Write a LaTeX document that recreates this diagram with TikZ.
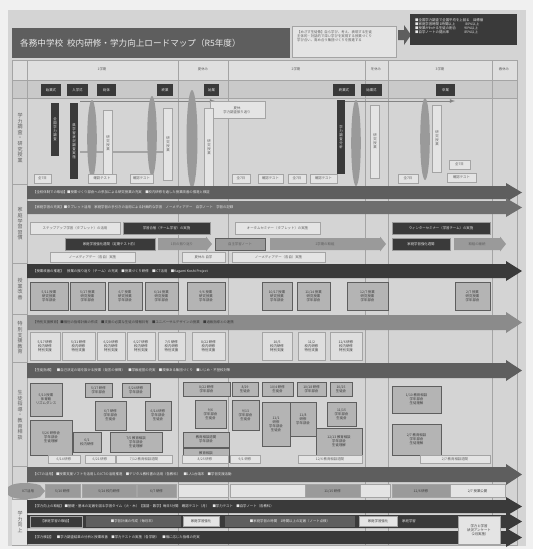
\documentclass[tikz,border=0pt]{standalone}
\usepackage{fontspec}
\setmainfont{Noto Sans CJK JP}
\definecolor{pagebg}{HTML}{F0F0F0}
\definecolor{poster}{HTML}{D4D4D4}
\definecolor{dk}{HTML}{5E5E5E}
\definecolor{dkk}{HTML}{3A3A3A}
\definecolor{md}{HTML}{9A9A9A}
\definecolor{lt}{HTML}{E4E4E4}
\definecolor{gridc}{HTML}{A4A4A4}
\definecolor{txtl}{HTML}{E8E8E8}
\tikzset{
  tiny/.style={font=\fontsize{3.4}{4}\selectfont, inner sep=0pt, align=center},
  tinyw/.style={tiny, text=txtl},
  dbox/.style={fill=dkk, draw=md, line width=0.4pt},
  lbox/.style={fill=lt, draw=gridc, line width=0.4pt},
  mbox/.style={fill=md, draw=dk, line width=0.4pt},
  gbox/.style={fill=poster!85!black, draw=dk, line width=0.4pt},
  oval/.style={fill=md},
  vlab/.style={font=\fontsize{5}{5.6}\selectfont, inner sep=0pt, align=center, text=dk},
}
\newcommand\bigarr[3]{% y1 y2 colour
  \fill[#3] (27,#1) -- (506,#1) -- (506,#1-3) -- (522,{(#1+#2)/2}) -- (506,#2+3) -- (506,#2) -- (27,#2) -- cycle;}
\newcommand\smallarr[5]{% x1 x2 y1 y2 colour
  \fill[#5] (#1,#3) -- (#2-6,#3) -- (#2-6,#3-1.5) -- (#2,{(#3+#4)/2}) -- (#2-6,#4+1.5) -- (#2-6,#4) -- (#1,#4) -- cycle;}
\begin{document}
\begin{tikzpicture}[x=1pt,y=-1pt]
\useasboundingbox (0,0) rectangle (533,549);
\fill[pagebg] (0,0) rectangle (533,549);
\fill[poster] (8,10) rectangle (526,546);
% header rows
\fill[lt!70!poster] (12,60) rectangle (517,80);
\fill[poster!95!black] (12,80) rectangle (517,98);
\draw[gridc, line width=0.5pt] (12,60) rectangle (517,545);
\draw[gridc, line width=0.5pt] (12,80) -- (517,80) (12,98) -- (517,98);
\foreach \x in {27,178,228,365,388,492} \draw[gridc, line width=0.5pt] (\x,60) -- (\x,545);
\foreach \y in {184,263,314,362,466,499} \draw[gridc, line width=0.5pt] (12,\y) -- (27,\y);
% title
\fill[dk] (12,28) rectangle (290,58);
\node[font=\fontsize{8.6}{9}\selectfont, text=txtl, anchor=west, inner sep=0] (title) at (20,43) {各務中学校\ \ 校内研修・学力向上ロードマップ（R5年度）};
\node[lbox, minimum width=104pt, minimum height=31pt, anchor=north west, inner sep=0] (intro) at (292,26) {};
\node[tiny, text=dk, align=left, anchor=north west] (introtxt) at (297,30) {【めざす生徒像】自ら学び、考え、表現する生徒\\主体的・対話的で深い学びを実現する授業づくり\\学び合い、高め合う集団づくりを推進する};
\fill[dk] (398,30) -- (404,30) -- (404,25) -- (411,35) -- (404,45) -- (404,40) -- (398,40) -- cycle;
\node[fill=dkk, minimum width=107pt, minimum height=31pt, anchor=north west, inner sep=0] (goal) at (410,14) {};
\node[tinyw, align=left, anchor=north west] (goaltxt) at (415,18) {■全国学力調査で全国平均を上回る\quad 目標値\\■家庭学習時間 1時間以上\quad\quad\quad 80\%以上\\■授業がわかる生徒の割合\quad\quad\ \ 90\%以上\\■自学ノートの提出率\quad\quad\quad\quad\ \ 85\%以上};
% term headers
\node[tiny, text=dk] (t1) at (102,69) {1学期};
\node[tiny, text=dk] (s1) at (203,69) {夏休み};
\node[tiny, text=dk] (t2) at (296,69) {2学期};
\node[tiny, text=dk] (s2) at (376,69) {冬休み};
\node[tiny, text=dk] (t3) at (440,69) {3学期};
\node[tiny, text=dk] (s3) at (504,69) {春休み};
% events
\foreach \a/\b/\t [count=\i] in {41/61/始業式,67/88/入学式,97/116/総体,157/173/終業,204/219/始業,333/355/終業式,361/382/始業式,436/455/卒業}
  \node[fill=dkk, minimum width={(\b-\a)*1pt}, minimum height=12pt, inner sep=0, tinyw] (ev\i) at ({(\a+\b)/2},90) {\t};
% label column
\node[vlab] (lab1) at (20,138) {学\\力\\調\\査\\・\\研\\究\\授\\業};
\node[vlab] (lab2) at (20,224) {家\\庭\\学\\習\\習\\慣};
\node[vlab] (lab3) at (20,289) {授\\業\\改\\善};
\node[vlab] (lab4) at (20,338) {特\\別\\支\\援\\教\\育};
\node[vlab] (lab5) at (20,415) {生\\徒\\指\\導\\・\\教\\育\\相\\談};
\fill[lt] (12,500) rectangle (27,545);
\node[vlab] (lab6) at (20,522) {学\\力\\向\\上};
% thin timeline lines
\draw[gridc!80!black, line width=0.8pt, -latex] (80,101) -- (215,101);
\draw[gridc!80!black, line width=0.8pt, -latex] (345,101) -- (455,101);
\node[lbox, minimum width=55pt, minimum height=17pt, anchor=north west, inner sep=0] (natl) at (210,101) {};
\node[tiny, text=dk] (natltxt) at (237,110) {夏休\\学力調査振り返り};
\draw[gridc, line width=1.2pt] (80,152) -- (165,152);
% vertical bars and ovals
\node[fill=dkk, minimum width=8pt, minimum height=53pt, inner sep=0, tinyw] (vb1) at (55,129) {全\\国\\学\\力\\調\\査};
\node[fill=dkk, minimum width=8pt, minimum height=76pt, inner sep=0, tinyw] (vb2) at (74,141) {県\\学\\習\\状\\況\\調\\査\\実\\施};
\node[fill=dkk, minimum width=8pt, minimum height=74pt, inner sep=0, tinyw] (vb3) at (341,137) {学\\力\\調\\査\\分\\析};
\foreach \x/\ya/\yb [count=\i] in {92/100/178, 152/96/176, 192/90/188, 356/100/186, 425/98/180}
  \fill[oval] (\x,{(\ya+\yb)/2}) ellipse ({\i==3 ? 5.5 : 4.8} and {(\yb-\ya)/2});
\foreach \x/\ya/\yb/\t [count=\i] in {108/110/176/研\\究\\授\\業, 168/108/180/研\\究\\授\\業, 209/108/186/研\\究\\授\\業, 375/105/178/研\\究\\授\\業, 437/105/172/研\\究\\授\\業}
  \node[lbox, minimum width=9pt, minimum height={(\yb-\ya)*1pt}, inner sep=0, tiny, text=dk] (vl\i) at (\x,{(\ya+\yb)/2}) {\t};
% small test boxes
\foreach \a/\b/\ya/\t [count=\i] in {34/51/174/全7日, 88/116/174/確認テスト, 130/153/174/確認テスト, 232/250/174/全7日, 258/283/174/確認テスト, 288/306/174/全7日, 310/337/174/確認テスト, 398/418/174/全7日, 449/470/160/全7日, 447/476/173/確認テスト}
  \node[lbox, minimum width={(\b-\a)*1pt}, minimum height=9pt, inner sep=0, tiny, text=dk] (tb\i) at ({(\a+\b)/2},\ya+4.5) {\t};
% big arrow 1, 2
\bigarr{186}{199}{dk}
\node[tinyw, anchor=west] (a1) at (33,192.5) {【全校体制での取組】■授業づくり部会への参加による研究授業の充実\quad ■校内研修を通した授業改善の推進と検証};
\bigarr{201}{214}{dk!90!white}
\node[tinyw, anchor=west] (a2) at (33,207.5) {【家庭学習の充実】■タブレット活用\quad 家庭学習の手引きの活用による計画的な学習\quad ノーメディアデー\quad 自学ノート\quad 学習の記録};
% home study rows
\node[lbox, minimum width=90pt, minimum height=12pt, inner sep=0, tiny, text=dk] (h1) at (75,228) {ステップアップ学習（タブレット）の活用};
\node[dbox, minimum width=87pt, minimum height=12pt, inner sep=0, tinyw] (h2) at (166.5,228) {学習合宿（チーム学習）の実施};
\node[lbox, minimum width=85pt, minimum height=12pt, inner sep=0, tiny, text=dk] (h3) at (277.5,228) {オータムセミナー（タブレット）の実施};
\node[dbox, minimum width=98pt, minimum height=12pt, inner sep=0, tinyw] (h4) at (441,228) {ウィンターセミナー（学習チーム）の実施};
\node[dbox, minimum width=90pt, minimum height=12pt, inner sep=0, tinyw] (h5) at (110,244) {家庭学習強化週間（定期テスト前）};
\smallarr{158}{212}{238}{250}{md}
\node[tiny, text=dk] (h6) at (182,244) {1日の振り返り};
\node[mbox, minimum width=50pt, minimum height=12pt, inner sep=0, tiny, text=dk] (h7) at (240,244) {自主学習ノート};
\smallarr{270}{386}{238}{250}{md}
\node[tiny, text=dk] (h8) at (325,244) {2学期の取組};
\node[dbox, minimum width=58pt, minimum height=12pt, inner sep=0, tinyw] (h9) at (421,244) {家庭学習強化週間};
\smallarr{454}{506}{238}{250}{md}
\node[tiny, text=dk] (h10) at (477,244) {取組の継続};
\node[lbox, minimum width=85pt, minimum height=10pt, inner sep=0, tiny, text=dk] (h11) at (92.5,257.5) {ノーメディアデー（各自）実施};
\node[lbox, minimum width=43pt, minimum height=10pt, inner sep=0, tiny, text=dk] (h12) at (203.5,257.5) {夏休み\ 自学};
\node[lbox, minimum width=93pt, minimum height=10pt, inner sep=0, tiny, text=dk] (h13) at (278.5,257.5) {ノーメディアデー（各自）実施};
% big arrow 3
\bigarr{264}{278}{dkk}
\node[tinyw, anchor=west] (a3) at (33,271) {【授業改善の推進】\quad 授業の振り返り（チーム）の充実\quad ■授業づくり研修\quad ■ICT活用\quad ■Kagami Koshi Project};
\foreach \a/\b/\t [count=\i] in {30/68/{5/11 授業\\研究授業\\学年部会}, 70/105/{5/17 授業\\研究授業\\学年部会}, 108/142/{6/7 授業\\研究授業\\学年部会}, 145/178/{6/14 授業\\研究授業\\学年部会}, 187/225/{9/6 授業\\研究授業\\学年部会}, 262/292/{10/17 授業\\研究授業\\学年部会}, 297/330/{11/14 授業\\研究授業\\学年部会}, 347/388/{12/7 授業\\研究授業\\学年部会}, 455/490/{2/7 授業\\研究授業\\学年部会}}
  \node[gbox, minimum width={(\b-\a)*1pt}, minimum height=28pt, inner sep=0, tiny, text=dkk] (k\i) at ({(\a+\b)/2},296) {\t};
% big arrow 4
\bigarr{315}{330}{md!90!black}
\node[tiny, text=dkk, anchor=west] (a4) at (33,322.5) {【特別支援教育】■個別の指導計画の作成\quad ■支援の必要な生徒の情報共有\quad ■ユニバーサルデザインの授業\quad ■通級指導との連携};
\foreach \a/\b/\t [count=\i] in {30/60/{5/17 研修\\校内研修\\特別支援}, 62/95/{5/31 研修\\校内研修\\特別支援}, 97/125/{6/20 研修\\校内研修\\特別支援}, 127/155/{6/27 研修\\校内研修\\特別支援}, 158/185/{7/5 研修\\校内研修\\特別支援}, 192/225/{8/22 研修\\校内研修\\特別支援}, 262/292/{10/5\\校内研修\\特別支援}, 298/325/{11/2\\校内研修\\特別支援}, 330/362/{12/6 研修\\校内研修\\特別支援}}
  \node[fill=lt!60!poster, draw=gridc, minimum width={(\b-\a)*1pt}, minimum height=28pt, inner sep=0, tiny, text=dkk] (s\i) at ({(\a+\b)/2},346) {\t};
% big arrow 5
\bigarr{363}{378}{dk}
\node[tinyw, anchor=west] (a5) at (33,370.5) {【生徒指導】\quad ■自己決定の場を設ける授業（発言の保障）\quad ■学級経営の充実\quad ■規律ある集団づくり\quad ■いじめ・不登校対策};
% student guidance boxes
\foreach \a/\ya/\b/\yb/\t [count=\i] in {
 30/383/62/416/{5/10 授業\\体育館\\リズムダンス},
 85/383/112/397/{5/17 研修\\学年部会},
 122/383/150/397/{5/24 研修\\学年部会},
 95/401/126/430/{6/7 研修\\学年部会\\生徒会},
 145/401/171/430/{6/14 研修\\学年部会\\生徒会},
 30/420/72/455/{5/26 研修会\\学年部会\\生徒理解},
 73/432/101/452/{6/1\\校内研修},
 110/432/162/452/{7/5 教育相談\\学年部会\\生徒理解},
 183/382/230/396/{8/22 研修\\学年部会},
 232/382/258/396/{8/29\\生徒会},
 195/400/226/428/{9/6\\学年部会\\生徒会},
 232/400/259/430/{9/13\\学年部会\\生徒会},
 183/432/229/447/{教育相談週間\\学年部会},
 183/448/229/462/{教育相談\\学年部会},
 262/382/293/396/{10/4 研修\\生徒会},
 297/382/326/396/{10/18 研修\\学年部会},
 330/382/352/396/{10/25\\生徒会},
 262/402/290/446/{11/1\\研修\\学年部会\\生徒会},
 290/402/316/436/{11/8\\研修\\学年部会},
 327/402/356/426/{11/15\\学年部会\\生徒会},
 316/428/362/455/{12/13 教育相談\\学年部会\\生徒理解},
 392/386/441/413/{1/10 教育相談\\学年部会\\生徒理解},
 392/424/441/455/{2/7 教育相談\\学年部会\\生徒理解}}
  \node[gbox, minimum width={(\b-\a)*1pt}, minimum height={(\yb-\ya)*1pt}, inner sep=0, tiny, text=dkk] (g\i) at ({(\a+\b)/2},{(\ya+\yb)/2}) {\t};
\foreach \a/\b/\t [count=\i] in {48/80/{6/14 研修}, 85/115/{6/21 研修}, 116/172/{7/12 教育相談週間}, 182/228/{8/25 研修}, 230/260/{9/1 研修}, 298/362/{12/6 教育相談週間}, 420/490/{2/7 教育相談週間}}
  \node[lbox, minimum width={(\b-\a)*1pt}, minimum height=8pt, inner sep=0, tiny, text=dk] (q\i) at ({(\a+\b)/2},459.5) {\t};
% big arrow 6
\bigarr{467}{482}{dk}
\node[tinyw, anchor=west] (a6) at (33,474.5) {【ICTの活用】\ ■授業支援ソフトを活用したICTの活用推進\quad ■デジタル教科書の活用（各教科）\quad ■1人1台端末\quad ■学習支援活動};
% ICT row
\fill[md] (8,487) .. controls (14,482) and (30,482) .. (40,485) -- (45,491) -- (40,497) .. controls (30,500) and (14,500) .. (8,495) -- cycle;
\node[tiny, text=dkk] (ictstart) at (28,491) {ICT活用};
\foreach \a/\b/\c/\t [count=\i] in {45/80/md/{5/10 研修}, 82/136/md/{5/24 校内研修}, 137/176/md/{6/7 研修}, 178/228/lt/{}, 230/305/lt/{}, 305/360/md/{11/15 研修}, 360/390/lt/{}, 392/450/md/{12/6 研修}, 450/505/lt/{2/7 授業公開}}
  \node[fill=\c, draw=gridc, minimum width={(\b-\a)*1pt}, minimum height=13pt, inner sep=0, tiny, text=dkk] (ic\i) at ({(\a+\b)/2},491) {\t};
% big arrow 7-9
\bigarr{500}{513}{dkk}
\node[tinyw, anchor=west] (a7) at (33,506.5) {【学力向上の取組】\ ■基礎・基本の定着を図る学習タイム（火・木）【国語・数学】毎日5分間\quad 確認テスト（月）\quad ■学力テスト\quad ■自学ノート（各教科）};
\bigarr{515}{528}{dkk}
\node[draw=gridc, minimum width=52pt, minimum height=11pt, inner sep=0, tinyw] (b1) at (56,521.5) {【家庭学習の取組】};
\node[fill=dk, minimum width=95pt, minimum height=11pt, inner sep=0, tinyw] (b2) at (133,521.5) {■学習計画の作成（毎月末）};
\node[lbox, minimum width=36pt, minimum height=10pt, inner sep=0, tiny, text=dkk] (b3) at (201,521.5) {家庭学習強化};
\node[fill=dk, minimum width=130pt, minimum height=11pt, inner sep=0, tinyw] (b4) at (290,521.5) {■家庭学習の時間\quad 1時間以上の定着（ノート点検）};
\node[lbox, minimum width=38pt, minimum height=10pt, inner sep=0, tiny, text=dkk] (b5) at (378,521.5) {家庭学習強化};
\node[tinyw, anchor=west] (b6) at (402,521.5) {家庭学習};
\bigarr{531}{544}{dkk}
\node[tinyw, anchor=west] (a9) at (33,537.5) {【学力検証】\quad ■学力調査結果の分析と授業改善\quad ■学力テストの実施（各学期）\quad ■個に応じた指導の充実};
\node[lbox, minimum width=42pt, minimum height=28pt, inner sep=0, tiny, text=dkk] (b7) at (479,530) {学力と学習\\状況アンケート\\（2月実施）};
\end{tikzpicture}
\end{document}
